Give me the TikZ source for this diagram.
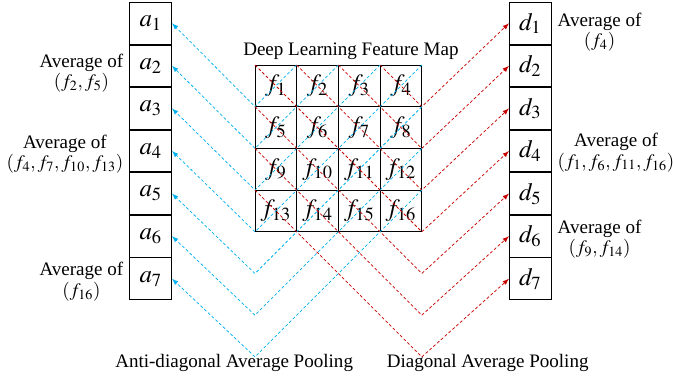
\documentclass[tikz,border=0pt]{standalone}
\usepackage{mathptmx}
\usepackage{fontspec}
\setmainfont{Liberation Serif}
\usepackage{tikz}
\usetikzlibrary{arrows,positioning}
\definecolor{antiblue}{RGB}{0, 176, 240}
\definecolor{diagred}{RGB}{200, 0, 0}
\tikzstyle{cell}=[draw, line width=0.6pt, minimum size=1cm, inner sep=0pt, font=\fontsize{17}{17}\selectfont]
\tikzstyle{note}=[align=center, inner sep=2pt, font=\fontsize{13}{14}\selectfont]
\tikzstyle{antiline}=[antiblue, line width=0.5pt, dash pattern=on 2pt off 1.5pt, -latex]
\tikzstyle{diagline}=[diagred, line width=0.5pt, dash pattern=on 2pt off 1.5pt, -latex]

\begin{document}
\begin{tikzpicture}[node distance=0pt]
\useasboundingbox (-6.115,-7.578) rectangle (10.024,1.559);

% feature map
\foreach \r in {0,...,3}
  \foreach \c in {1,...,4} {
    \pgfmathtruncatemacro{\n}{4*\r+\c}
    \node[cell] (f\n) at (\c-0.5, -\r-0.5) {$f_{\n}$};
  }
\node[note, anchor=south] (title) at (2.3, 0.05) {Deep Learning Feature Map};

% pooled columns
\node[cell] (a1) at (-2.5, 1) {$a_1$};
\node[cell] (d1) at (6.6, 1) {$d_1$};
\foreach \k [count=\p] in {2,...,7} {
  \node[cell, below=of a\p] (a\k) {$a_{\k}$};
  \node[cell, below=of d\p] (d\k) {$d_{\k}$};
}

% pooling paths
\foreach \k in {1,...,7} {
  \coordinate (as\k) at ({min(\k,4)}, {min(0,4-\k)});
  \coordinate (av\k) at (0, -\k);
  \coordinate (ds\k) at ({max(0,4-\k)}, {min(0,4-\k)});
  \coordinate (dv\k) at (4, -\k);
  \draw[antiline] (as\k) -- (av\k) -- (a\k.east);
  \draw[diagline] (ds\k) -- (dv\k) -- (d\k.west);
}

% notes
\node[note, left=2pt of a2, yshift=-5pt] (na2) {Average of\\$(f_2,f_5)$};
\node[note, left=2pt of a4, yshift=-2pt] (na4) {Average of\\$(f_4,f_7,f_{10},f_{13})$};
\node[note, left=2pt of a7, yshift=-2pt] (na7) {Average of\\$(f_{16})$};
\node[note, right=2pt of d1, yshift=-6pt] (nd1) {Average of\\$(f_4)$};
\node[note, right=2pt of d4, yshift=-1pt] (nd4) {Average of\\$(f_1,f_6,f_{11},f_{16})$};
\node[note, right=2pt of d6, yshift=-2pt] (nd6) {Average of\\$(f_9,f_{14})$};

\node[note] (anti) at (-0.5, -7.14) {Anti-diagonal Average Pooling};
\node[note] (diag) at (5.58, -7.14) {Diagonal Average Pooling};
\end{tikzpicture}
\end{document}
